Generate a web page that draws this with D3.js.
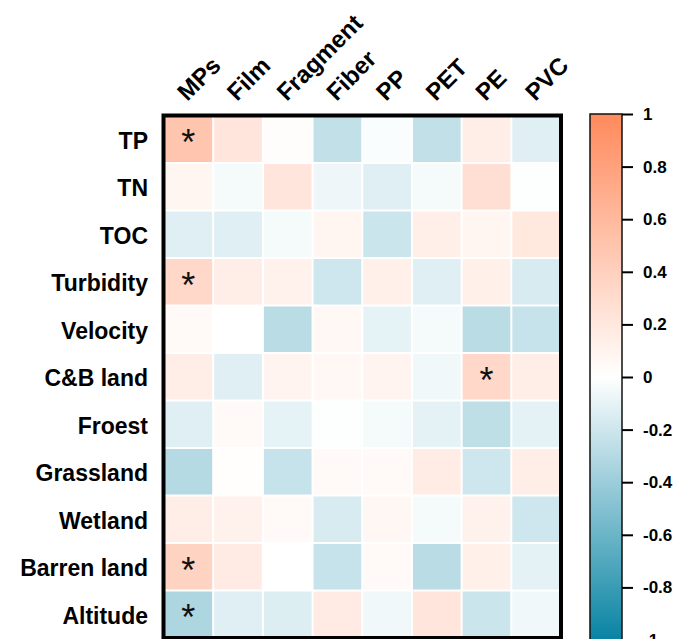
<!DOCTYPE html>
<html>
<head>
<meta charset="utf-8">
<script src="https://cdn.jsdelivr.net/npm/d3@7"></script>
<style>
  body { margin: 0; background: #fff; }
  text { font-family: "Liberation Sans", Arial, sans-serif; font-weight: bold; fill: #000; }
</style>
</head>
<body>
<script>
const cols = ["MPs", "Film", "Fragment", "Fiber", "PP", "PET", "PE", "PVC"];
const rows = ["TP", "TN", "TOC", "Turbidity", "Velocity", "C&B land", "Froest",
              "Grassland", "Wetland", "Barren land", "Altitude"];

// correlation values, one list per row (same order as cols)
const valTP        = [0.50, 0.22, 0.02, -0.25, -0.02, -0.25, 0.15, -0.13];
const valTN        = [0.08, -0.04, 0.22, -0.07, -0.13, -0.04, 0.27, -0.01];
const valTOC       = [-0.13, -0.13, -0.04, 0.08, -0.21, 0.14, 0.08, 0.20];
const valTurbidity = [0.33, 0.15, 0.12, -0.20, 0.13, -0.13, 0.13, -0.16];
const valVelocity  = [0.04, 0.00, -0.28, 0.06, -0.10, -0.04, -0.28, -0.23];
const valCBland    = [0.15, -0.13, 0.09, 0.06, 0.09, -0.06, 0.33, 0.15];
const valFroest    = [-0.13, 0.04, -0.10, -0.01, -0.04, -0.11, -0.26, -0.11];
const valGrassland = [-0.30, 0.01, -0.23, 0.05, 0.05, 0.16, -0.20, 0.15];
const valWetland   = [0.15, 0.12, 0.05, -0.16, 0.07, -0.04, 0.12, -0.20];
const valBarren    = [0.38, 0.17, 0.00, -0.23, 0.05, -0.28, 0.13, -0.11];
const valAltitude  = [-0.33, -0.13, -0.14, 0.17, -0.06, 0.22, -0.21, -0.06];
const values = [valTP, valTN, valTOC, valTurbidity, valVelocity, valCBland,
                valFroest, valGrassland, valWetland, valBarren, valAltitude];

// significant cells [row, col]
const stars = [[0, 0], [3, 0], [5, 6], [9, 0], [10, 0]];

const legendTicks = [1, 0.8, 0.6, 0.4, 0.2, 0, -0.2, -0.4, -0.6, -0.8, -1];

const w = 676, h = 639;

const svg = d3.select("body")
  .append("svg")
  .attr("width", w)
  .attr("height", h);

const color = d3.scaleLinear()
  .domain([-1, 0, 1])
  .range(["#0883a3", "#ffffff", "#ff8a5c"]);

const x = d3.scaleBand()
  .domain(cols)
  .range([163.5, 561]);

const y = d3.scaleBand()
  .domain(rows)
  .range([115.5, 638]);

const cells = [];
values.forEach((r, i) => r.forEach((v, j) => cells.push({row: rows[i], col: cols[j], v: v})));

svg.append("g")
  .selectAll("rect")
  .data(cells)
  .enter().append("rect")
  .attr("x", d => x(d.col) + 1)
  .attr("y", d => y(d.row) + 1)
  .attr("width", x.bandwidth() - 2)
  .attr("height", y.bandwidth() - 2)
  .attr("fill", d => color(d.v));

svg.append("g")
  .selectAll("text")
  .data(stars)
  .enter().append("text")
  .attr("x", d => x(cols[d[1]]) + x.bandwidth() / 2)
  .attr("y", d => y(rows[d[0]]) + y.bandwidth() / 2 + 16)
  .attr("text-anchor", "middle")
  .style("font-weight", "normal")
  .style("font-size", "36px")
  .style("fill", "#111")
  .text("*");

// frame
svg.append("rect")
  .attr("x", 163.5)
  .attr("y", 115.5)
  .attr("width", 561 - 163.5)
  .attr("height", 638 - 115.5)
  .attr("fill", "none")
  .attr("stroke", "#000")
  .attr("stroke-width", 4);

// row labels
svg.append("g")
  .selectAll("text")
  .data(rows)
  .enter().append("text")
  .attr("x", 148)
  .attr("y", d => y(d) + y.bandwidth() / 2 + 1)
  .attr("dy", "0.36em")
  .attr("text-anchor", "end")
  .style("font-size", "23px")
  .text(d => d);

// column labels
svg.append("g")
  .selectAll("text")
  .data(cols)
  .enter().append("text")
  .attr("transform", d => `translate(${x(d) + x.bandwidth() / 2 - 1},102) rotate(-45)`)
  .style("font-size", "24px")
  .text(d => d);

// colour bar
const ly = d3.scaleLinear()
  .domain([-1, 1])
  .range([640, 114]);

const defs = svg.append("defs");
const grad = defs.append("linearGradient")
  .attr("id", "grad")
  .attr("x1", 0).attr("y1", 1)
  .attr("x2", 0).attr("y2", 0);
grad.selectAll("stop")
  .data(d3.range(0, 1.001, 0.1))
  .enter().append("stop")
  .attr("offset", d => d)
  .attr("stop-color", d => color(-1 + 2 * d));

svg.append("rect")
  .attr("x", 590)
  .attr("y", ly(1))
  .attr("width", 32)
  .attr("height", ly(-1) - ly(1))
  .attr("fill", "url(#grad)")
  .attr("stroke", "#111")
  .attr("stroke-width", 1.5);

const legendAxis = d3.axisRight(ly)
  .tickValues(legendTicks)
  .tickSize(11)
  .tickPadding(10)
  .tickFormat(d => String(d));

const lg = svg.append("g")
  .attr("transform", "translate(622,0)")
  .call(legendAxis);
lg.select(".domain").remove();
lg.selectAll(".tick line").attr("stroke", "#000").attr("stroke-width", 2);
lg.selectAll(".tick text")
  .style("font-size", "17px")
  .style("font-family", "'Liberation Sans', Arial, sans-serif")
  .style("font-weight", "bold")
  .attr("fill", "#111");
</script>
</body>
</html>
